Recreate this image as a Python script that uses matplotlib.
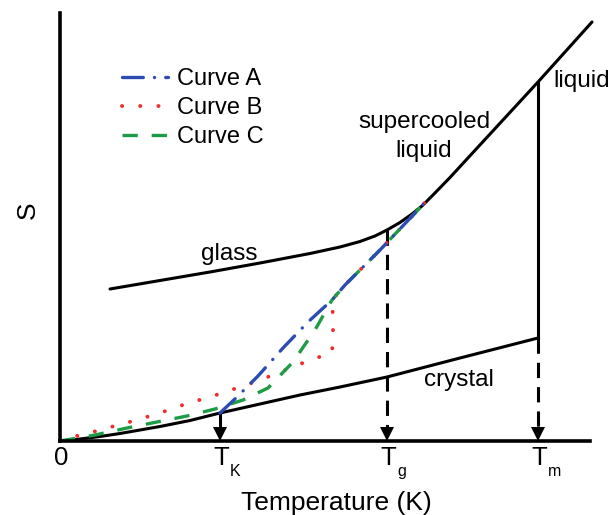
import matplotlib
matplotlib.use("Agg")
import matplotlib.pyplot as plt

plt.rcParams["font.family"] = ["Liberation Sans", "DejaVu Sans"]
plt.rcParams["lines.scale_dashes"] = False

# Characteristic temperatures (arbitrary units)
T_K, T_g, T_m = 160, 327, 478

# Crystal entropy branch
crystal_T = [0, 20, 40, 60, 80, 100, 130, 160, 200, 240, 280, 327, 400, 478]
crystal_S = [0, 2, 4.5, 7.5, 11, 14.5, 20.5, 28, 37, 46, 54, 64, 83, 103]

# Glass -> supercooled liquid -> liquid branch
liquid_T = [50, 100, 150, 200, 250, 280, 300, 315, 327, 340, 352, 362, 372,
            390, 407, 478, 532]
liquid_S = [152, 160.5, 169, 178, 187.5, 194, 199.5, 205, 211, 218.5, 227,
            235, 245, 263.5, 282, 359, 419]

# Shared upper part of curves A, B, C
common_T = [272, 285, 300, 320, 337, 357, 370]
common_S = [141, 156, 171, 191, 209, 230, 244]

curveA_T = [160, 177, 198, 223, 248]
curveA_S = [28, 44, 65, 93, 119]

curveB_T = [0, 5, 22, 40, 58, 77, 93, 112, 128, 147, 165, 183, 200, 218, 235,
            253, 272, 273, 273]
curveB_S = [0, 3, 6, 11, 16, 21, 26, 32, 38, 43, 49, 55, 61, 68, 75, 82, 88,
            104, 123]

curveC_T = [0, 35, 67, 97, 127, 155, 183, 208, 233, 255]
curveC_S = [0, 6, 13, 19, 25, 32, 41, 53, 79, 111]

tick_pos = [0, T_K, T_g, T_m]
tick_main = ["0", "T", "T", "T"]
tick_sub = ["", "K", "g", "m"]

blue = "#2c4cb4"
red = "#f42a2a"
green = "#1c9c44"

fig = plt.figure(figsize=(6.09, 5.15), dpi=100)
ax = fig.add_axes([60 / 609, (515 - 441) / 515, 530 / 609, 428 / 515])
ax.set_xlim(0, 530)
ax.set_ylim(0, 428)
for side in ("top", "right"):
    ax.spines[side].set_visible(False)
for side in ("left", "bottom"):
    ax.spines[side].set_linewidth(2.6)
ax.set_xticks([])
ax.set_yticks([])

lw = 2.2
ax.plot(crystal_T, crystal_S, color="black", lw=lw, solid_capstyle="round",
        solid_joinstyle="round")
ax.plot(liquid_T, liquid_S, color="black", lw=lw, solid_capstyle="round",
        solid_joinstyle="round", clip_on=False)

# melting step
S_liq_m = liquid_S[liquid_T.index(T_m)]
S_cry_m = crystal_S[crystal_T.index(T_m)]
S_cry_K = crystal_S[crystal_T.index(T_K)]
S_gl_g = liquid_S[liquid_T.index(T_g)]
ax.plot([T_m, T_m], [S_cry_m, S_liq_m], color="black", lw=lw)

# drop lines with arrow heads onto the temperature axis
head_h = 7
ax.plot([T_K, T_K], [S_cry_K, head_h], color="black", lw=lw)
ax.plot([T_g, T_g], [S_gl_g, head_h], color="black", lw=lw,
        dashes=(11, 6.5))
ax.plot([T_m, T_m], [S_cry_m, head_h], color="black", lw=lw,
        dashes=(11, 6.5))
for t in (T_K, T_g, T_m):
    ax.plot([t], [head_h], marker="v", ms=10, color="black", mew=0,
            clip_on=False)

# cooling paths
ax.plot(curveB_T + common_T, curveB_S + common_S, color=red, lw=2.8,
        dashes=(0.1, 13), dash_capstyle="round", label="Curve B")
ax.plot(curveC_T + common_T, curveC_S + common_S, color=green, lw=2.4,
        dashes=(11, 10), label="Curve C")
ax.plot(curveA_T + common_T, curveA_S + common_S, color=blue, lw=2.4,
        dashes=(15, 8, 0.1, 8), dash_capstyle="round", label="Curve A")

handles, labels = ax.get_legend_handles_labels()
order = [labels.index(n) for n in ("Curve A", "Curve B", "Curve C")]
ax.legend([handles[i] for i in order], [labels[i] for i in order],
          loc="upper left", bbox_to_anchor=(0.117, 0.872), frameon=False,
          fontsize=17, handlelength=1.95, handletextpad=0.4,
          labelspacing=0.30, borderpad=0, borderaxespad=0)

fs = 17.5
ax.text(169, 181, "glass", fontsize=fs, ha="center", va="baseline")
ax.text(364, 313, "supercooled", fontsize=fs, ha="center", va="baseline")
ax.text(364, 284, "liquid", fontsize=fs, ha="center", va="baseline")
ax.text(493, 354, "liquid", fontsize=fs, ha="left", va="baseline",
        clip_on=False)
ax.text(364, 55, "crystal", fontsize=fs, ha="left", va="baseline")

# temperature axis labels
for pos, main, sub in zip(tick_pos, tick_main, tick_sub):
    ax.text(pos + 1, -24, main, fontsize=18.5, ha="center", va="baseline",
            clip_on=False)
    if sub:
        ax.text(pos + 10, -35, sub, fontsize=11.5, ha="left", va="baseline",
                clip_on=False)

ax.text(276, -69, "Temperature (K)", fontsize=19, ha="center",
        va="baseline", clip_on=False)
ax.text(-32, 231, "S", fontsize=19, ha="center", va="center", rotation=90,
        clip_on=False)

fig.savefig("out.png", dpi=100)
